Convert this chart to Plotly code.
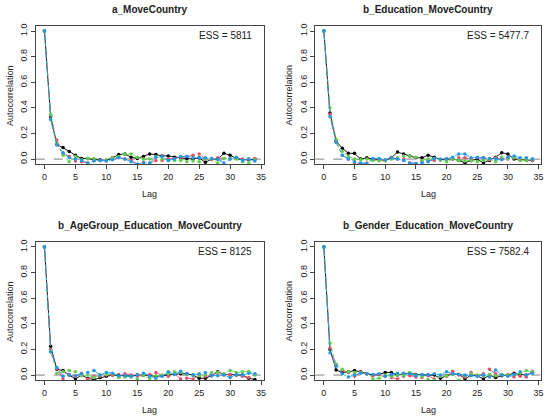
import plotly.graph_objects as go

lags = list(range(35))
chain_names = ["chain 1", "chain 2", "chain 3", "chain 4"]
chain_colors = ["#000000", "#DF536B", "#61D04F", "#2297E6"]
chain_dash = ["solid", "dash", "dot", "dashdot"]

titles = [
    "a_MoveCountry",
    "b_Education_MoveCountry",
    "b_AgeGroup_Education_MoveCountry",
    "b_Gender_Education_MoveCountry",
]
ess = ["ESS = 5811", "ESS = 5477.7", "ESS = 8125", "ESS = 7582.4"]

# autocorrelation per chain, panel a_MoveCountry
a_chain1 = [1.0, 0.33, 0.115, 0.09, 0.06, 0.03, 0.005, 0.005, -0.005, -0.005, -0.01, 0.01, 0.035, 0.04, 0.015,
            0.005, 0.02, 0.04, 0.035, 0.025, 0.025, 0.015, 0.01, 0.005, 0.0, 0.01, -0.025, 0.0, 0.0, 0.045,
            0.03, 0.005, -0.005, -0.005, 0.0]
a_chain2 = [1.0, 0.34, 0.15, 0.045, 0.02, -0.015, -0.02, -0.03, -0.01, -0.01, -0.01, 0.0, 0.015, 0.0, -0.01,
            -0.04, -0.025, -0.035, -0.01, -0.01, 0.0, 0.005, 0.015, 0.02, 0.03, 0.04, 0.0, -0.005, 0.01, 0.005,
            0.0, 0.01, 0.0, 0.0, 0.005]
a_chain3 = [1.0, 0.35, 0.12, 0.03, -0.02, 0.02, -0.005, 0.005, 0.005, -0.01, -0.005, 0.01, 0.02, 0.04, 0.04,
            0.015, 0.0, 0.0, 0.02, 0.0, -0.01, -0.01, -0.01, -0.02, -0.015, -0.02, 0.0, 0.0, -0.03, 0.005,
            0.005, 0.0, -0.02, -0.03, -0.005]
a_chain4 = [1.0, 0.31, 0.11, 0.05, 0.01, 0.0, -0.01, -0.03, -0.015, -0.01, -0.015, -0.005, 0.01, 0.0, -0.02,
            -0.04, -0.03, -0.03, 0.015, 0.02, -0.01, 0.0, 0.02, 0.02, 0.01, 0.01, 0.01, 0.005, 0.0, -0.03,
            0.0, 0.015, -0.01, 0.0, -0.015]

# panel b_Education_MoveCountry
b_chain1 = [1.0, 0.36, 0.14, 0.085, 0.045, 0.045, 0.0, 0.01, 0.0, -0.005, -0.01, 0.01, 0.055, 0.04, 0.025,
            0.01, 0.01, 0.03, 0.015, -0.005, 0.0, 0.0, -0.01, -0.03, -0.01, 0.0, -0.03, -0.01, 0.015, 0.05,
            0.04, 0.0, -0.005, -0.01, -0.01]
b_chain2 = [1.0, 0.35, 0.14, 0.03, 0.0, -0.03, -0.04, -0.03, -0.005, -0.01, -0.01, 0.015, 0.0, 0.0, -0.03,
            -0.035, -0.02, -0.01, -0.01, -0.005, 0.0, 0.005, 0.01, 0.01, 0.0, 0.01, 0.01, -0.005, 0.01, 0.0,
            0.0, 0.01, -0.01, 0.0, -0.01]
b_chain3 = [1.0, 0.40, 0.155, 0.06, 0.02, 0.0, -0.005, 0.0, -0.01, -0.01, -0.01, 0.0, 0.01, 0.025, 0.025,
            0.015, -0.01, 0.0, 0.005, -0.005, -0.02, 0.0, -0.01, -0.015, -0.01, -0.02, -0.01, 0.0, -0.02,
            0.015, 0.005, 0.01, -0.01, -0.01, 0.0]
b_chain4 = [1.0, 0.33, 0.13, 0.03, 0.0, -0.02, -0.03, -0.035, 0.005, 0.005, -0.005, 0.01, 0.0, -0.01, -0.03,
            -0.035, -0.03, -0.02, 0.005, 0.0, 0.0, 0.015, 0.04, 0.04, 0.01, 0.015, 0.01, 0.005, 0.0, -0.005,
            0.015, 0.025, 0.01, 0.01, 0.0]

# panel b_AgeGroup_Education_MoveCountry
c_chain1 = [1.0, 0.225, 0.045, 0.035, 0.0, -0.03, 0.0, -0.025, -0.035, -0.02, -0.01, 0.0, 0.0, -0.005, -0.01,
            0.0, 0.0, -0.005, -0.01, -0.005, 0.0, 0.01, 0.01, 0.01, 0.0, -0.025, -0.025, -0.005, 0.025,
            0.005, 0.005, 0.0, 0.0, -0.025, -0.035]
c_chain2 = [1.0, 0.2, 0.05, -0.03, 0.0, -0.01, 0.015, -0.03, -0.01, -0.01, 0.0, 0.0, -0.01, 0.01, 0.0, -0.01,
            0.0, 0.005, 0.02, -0.005, -0.01, 0.01, -0.03, -0.025, -0.03, 0.0, -0.01, 0.0, 0.02, 0.0, 0.005,
            0.0, -0.01, -0.02, 0.005]
c_chain3 = [1.0, 0.19, 0.015, 0.025, 0.035, 0.025, -0.005, 0.0, -0.02, 0.0, 0.005, 0.01, -0.02, -0.015,
            -0.015, -0.03, 0.0, -0.03, -0.005, 0.0, 0.01, 0.025, 0.02, 0.005, 0.0, -0.005, 0.0, 0.02, 0.02,
            0.01, 0.035, 0.02, 0.025, 0.03, 0.0]
c_chain4 = [1.0, 0.18, 0.06, -0.01, 0.0, -0.005, 0.01, 0.02, 0.035, 0.0, 0.02, 0.015, -0.005, -0.005, -0.01,
            0.0, 0.015, -0.01, -0.025, -0.01, 0.025, 0.005, 0.03, 0.01, 0.0, 0.01, 0.02, -0.005, -0.005, 0.0,
            -0.02, 0.005, 0.0, 0.015, 0.01]

# panel b_Gender_Education_MoveCountry
d_chain1 = [1.0, 0.2, 0.04, 0.02, 0.025, 0.035, 0.025, 0.01, 0.0, 0.005, 0.02, 0.02, 0.0, 0.01, 0.015, 0.005,
            0.0, 0.0, 0.0, -0.025, -0.005, 0.01, 0.005, -0.03, 0.0, -0.005, -0.03, 0.0, -0.02, -0.005, 0.0,
            0.015, 0.005, 0.0, 0.02]
d_chain2 = [1.0, 0.21, 0.08, 0.04, 0.02, -0.01, 0.02, 0.01, -0.005, 0.005, -0.01, -0.02, -0.03, -0.01,
            -0.005, -0.015, -0.02, -0.005, -0.03, -0.01, -0.01, 0.03, 0.0, -0.015, 0.02, -0.005, 0.01, 0.045,
            0.01, 0.0, 0.0, -0.015, -0.01, -0.015, 0.03]
d_chain3 = [1.0, 0.25, 0.085, 0.045, 0.025, 0.02, 0.02, 0.01, -0.03, -0.025, 0.0, -0.01, 0.0, 0.0, 0.02, 0.0,
            -0.01, -0.035, -0.04, -0.01, -0.005, 0.005, -0.04, -0.005, 0.01, 0.0, -0.005, 0.005, -0.005,
            0.005, 0.0, 0.005, 0.015, 0.035, 0.025]
d_chain4 = [1.0, 0.175, 0.07, 0.01, -0.015, 0.0, 0.015, 0.01, 0.005, 0.01, -0.01, 0.005, 0.015, 0.015, 0.01,
            -0.005, 0.005, 0.0, 0.01, 0.0, 0.025, 0.01, 0.005, 0.0, -0.005, -0.01, 0.0, -0.015, 0.04, 0.0,
            -0.01, 0.005, 0.025, 0.0, 0.015]

panels = [
    [a_chain1, a_chain2, a_chain3, a_chain4],
    [b_chain1, b_chain2, b_chain3, b_chain4],
    [c_chain1, c_chain2, c_chain3, c_chain4],
    [d_chain1, d_chain2, d_chain3, d_chain4],
]

W, H = 550, 418
# plot boxes in pixels (left, right, top, bottom)
boxes = [(36, 265, 24, 163), (317, 544, 24, 163), (36, 265, 241, 380), (317, 544, 241, 380)]
FONT = "Liberation Sans, Arial, sans-serif"

fig = go.Figure()
layout = dict(
    width=W, height=H, margin=dict(l=0, r=0, t=0, b=0),
    paper_bgcolor="white", plot_bgcolor="white", showlegend=False,
    font=dict(family=FONT, size=9, color="black"),
)
annotations = []
shapes = []

for i, (series, box) in enumerate(zip(panels, boxes)):
    n = "" if i == 0 else str(i + 1)
    xa, ya = "x" + n, "y" + n
    l, r, t, b = box
    for vals, name, col, dash in zip(series, chain_names, chain_colors, chain_dash):
        fig.add_trace(go.Scatter(
            x=lags, y=vals, mode="lines+markers", name=name, xaxis=xa, yaxis=ya,
            line=dict(color=col, width=0.9, dash=dash), marker=dict(color=col, size=3.5),
        ))
    axis_common = dict(
        showline=True, mirror=True, linecolor="#444444", linewidth=1, showgrid=False,
        zeroline=False, ticks="outside", ticklen=4, tickcolor="#444444",
        tickfont=dict(size=9, family=FONT, color="#222222"),
    )
    layout["xaxis" + n] = dict(
        axis_common, domain=[l / W, r / W], anchor=ya, range=[-1.4, 35.4],
        tickvals=[0, 5, 10, 15, 20, 25, 30, 35],
    )
    layout["yaxis" + n] = dict(
        axis_common, domain=[1 - b / H, 1 - t / H], anchor=xa, range=[-0.04, 1.04],
        tickvals=[0.0, 0.2, 0.4, 0.6, 0.8, 1.0], tickformat=".1f", tickangle=-90,
    )
    shapes.append(dict(
        type="line", xref=xa + " domain", yref=ya, x0=0, x1=1, y0=0, y1=0,
        line=dict(color="#808080", width=1, dash="dash"), layer="below",
    ))
    cx = (l + r) / 2 / W
    annotations += [
        dict(text="<b>" + titles[i] + "</b>", x=cx, y=1 - (t - 16) / H, xref="paper", yref="paper",
             showarrow=False, font=dict(size=10, color="#222222"), xanchor="center", yanchor="middle"),
        dict(text="Lag", x=cx, y=1 - (b + 30) / H, xref="paper", yref="paper",
             showarrow=False, font=dict(size=9, color="#222222"), xanchor="center", yanchor="middle"),
        dict(text="Autocorrelation", x=(l - 26) / W, y=1 - (t + b) / 2 / H, xref="paper", yref="paper",
             showarrow=False, font=dict(size=9, color="#222222"), textangle=-90,
             xanchor="center", yanchor="middle"),
        dict(text=ess[i], x=(r - 10) / W, y=1 - (t + 10) / H, xref="paper", yref="paper",
             showarrow=False, font=dict(size=10, color="#222222"), xanchor="right", yanchor="middle"),
    ]

layout["annotations"] = annotations
layout["shapes"] = shapes
fig.update_layout(**layout)
fig.write_html("out.html", config={"displayModeBar": False},
               post_script="document.body.style.margin='0';")
